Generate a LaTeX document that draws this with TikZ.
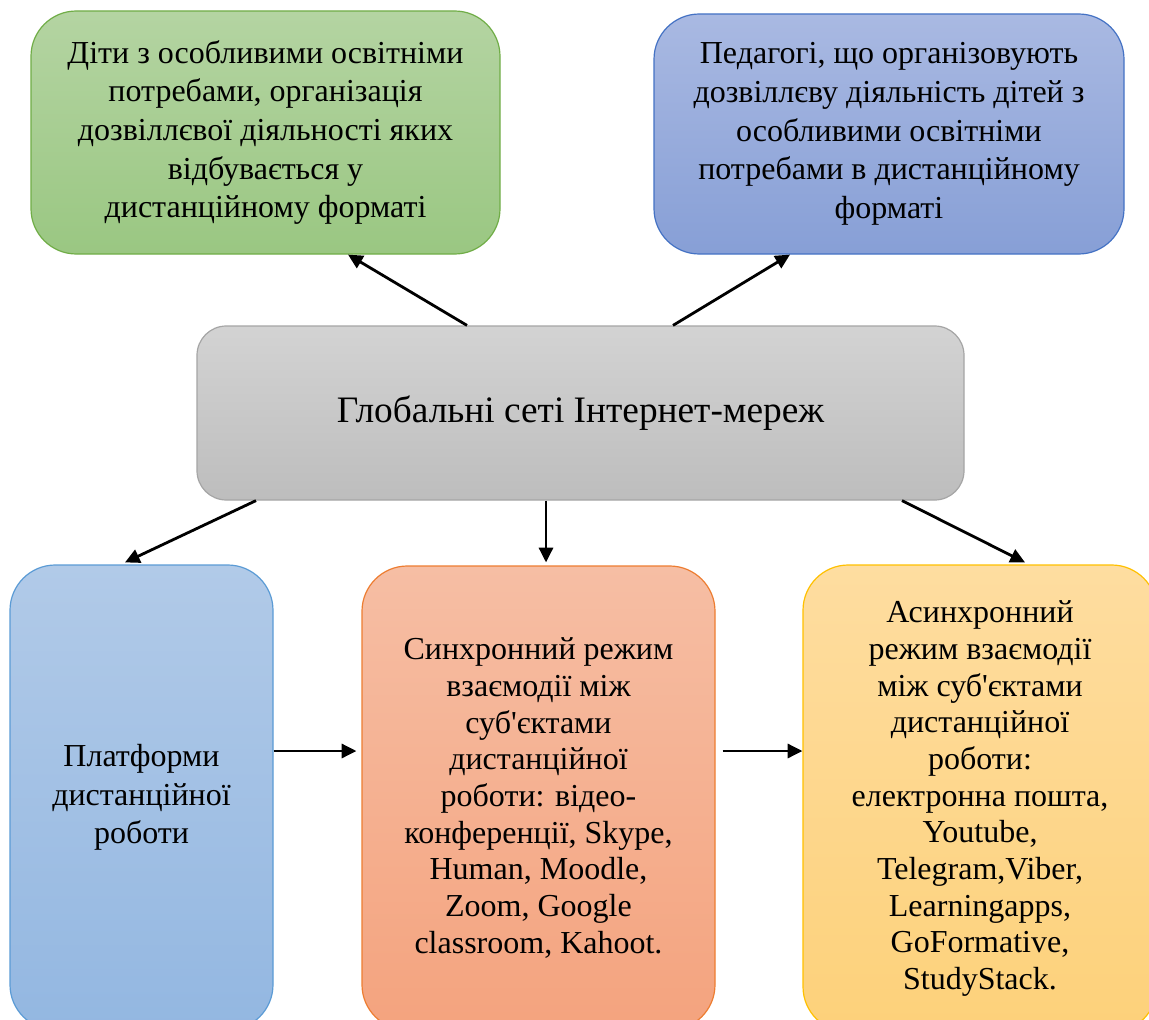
\documentclass[tikz,border=0pt]{standalone}
\usepackage{fontspec}
\newfontfamily\diagfont{Liberation Serif}
\usetikzlibrary{arrows.meta,positioning,calc}

\definecolor{greentop}{HTML}{B4D4A2}
\definecolor{greenbot}{HTML}{9AC782}
\definecolor{greenline}{HTML}{70AD47}
\definecolor{bluetop}{HTML}{A9B9E2}
\definecolor{bluebot}{HTML}{879FD6}
\definecolor{blueline}{HTML}{4472C4}
\definecolor{greytop}{HTML}{D3D3D3}
\definecolor{greybot}{HTML}{BDBDBD}
\definecolor{greyline}{HTML}{A5A5A5}
\definecolor{skytop}{HTML}{B1CAE8}
\definecolor{skybot}{HTML}{93B7E1}
\definecolor{skyline}{HTML}{5B9BD5}
\definecolor{orangetop}{HTML}{F6BEA4}
\definecolor{orangebot}{HTML}{F4A37E}
\definecolor{orangeline}{HTML}{ED7D31}
\definecolor{yellowtop}{HTML}{FEDDA0}
\definecolor{yellowbot}{HTML}{FDD17A}
\definecolor{yellowline}{HTML}{FFC000}

\begin{document}
\begin{tikzpicture}[x=0.75pt, y=-0.75pt, >={Triangle[length=11pt,width=10.5pt]},
  every box/.style={rounded corners=34pt, align=center, inner sep=0pt, line width=0.9pt,
    font=\diagfont\fontsize{24}{29}\selectfont},
  box/.style 2 args={every box/.try, draw=#1line, top color=#1top, bottom color=#1bot},
  link/.style={->, line width=2.1pt}]

\clip (0,0) rectangle (1149,1020);
\useasboundingbox (0,0) rectangle (1149,1020);

% top row
\node [box={green}{}, minimum width=351.75pt, minimum height=182.25pt] (children) at (265.5,132.5)
  {Діти з особливими освітніми\\потребами, організація\\дозвіллєвої діяльності яких\\відбувається у\\дистанційному форматі};
\node [box={blue}{}, minimum width=352.5pt, minimum height=180pt] (teachers) at (889,134)
  {Педагогі, що організовують\\дозвіллєву діяльність дітей з\\особливими освітніми\\потребами в дистанційному\\форматі};

% centre
\node [box={grey}{}, rounded corners=22pt, minimum width=575.25pt, minimum height=130.5pt,
  font=\diagfont\fontsize{28}{34}\selectfont] (global) at (580.5,413)
  {Глобальні сеті Інтернет-мереж};

% bottom row
\node [box={sky}{}, minimum width=197.25pt, minimum height=348.75pt] (platforms) at (141.5,797.5)
  {Платформи\\дистанційної\\роботи};
\node [box={orange}{}, font=\diagfont\fontsize{24}{27.5}\selectfont,
  minimum width=264.75pt, minimum height=348pt] (sync) at (538.5,798)
  {Синхронний режим\\взаємодії між\\суб'єктами\\дистанційної\\роботи: відео-\\конференції, Skype,\\Human, Moodle,\\Zoom, Google\\classroom, Kahoot.};
\node [box={yellow}{}, font=\diagfont\fontsize{24}{27.5}\selectfont,
  minimum width=265.5pt, minimum height=350.25pt] (async) at (980,798.5)
  {Асинхронний\\режим взаємодії\\між суб'єктами\\дистанційної\\роботи:\\електронна пошта,\\Youtube,\\Telegram,Viber,\\Learningapps,\\GoFormative,\\StudyStack.};

% arrows from the centre
\draw [link] ($(global.north)+(-113.5,0)$) -- ($(children.south)+(82.5,0)$);
\draw [link] ($(global.north)+(92.5,0)$) -- ($(teachers.south)+(-99,0)$);
\draw [link] ($(global.south)+(-324.5,0)$) -- ($(platforms.north)+(-16.5,-2)$);
\draw [link] ($(global.south)+(-34.5,0)$) -- ($(sync.north)+(7.5,-3)$);
\draw [link] ($(global.south)+(321.5,0)$) -- ($(async.north)+(45,-2)$);

% arrows along the bottom row
\draw [link] ($(platforms.east)+(0,-46.5)$) -- ($(sync.west)+(-5,-47)$);
\draw [link] ($(sync.east)+(7,-47)$) -- ($(async.west)+(0,-47.5)$);

\end{tikzpicture}
\end{document}
